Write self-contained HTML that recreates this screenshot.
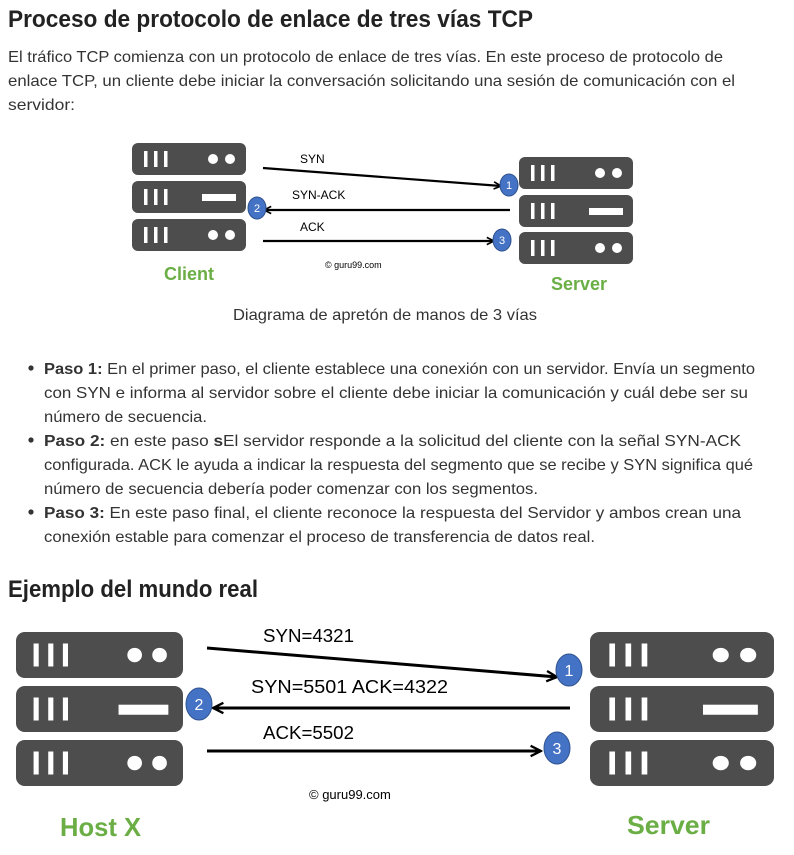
<!DOCTYPE html>
<html><head><meta charset="utf-8"><style>
html,body{margin:0;padding:0;background:#fff;width:794px;height:855px;overflow:hidden}
svg{display:block}
.t{font-family:"Liberation Sans",sans-serif;fill:#333;font-size:16px}
.b{font-weight:bold}
.d{font-family:"Liberation Sans",sans-serif;fill:#000}
.g{font-family:"Liberation Sans",sans-serif;fill:#6aae45;font-weight:bold}
</style></head><body>
<svg width="794" height="855" viewBox="0 0 794 855" xmlns="http://www.w3.org/2000/svg">
<defs>
<symbol id="u1" viewBox="0 0 114 32" preserveAspectRatio="none">
<rect x="0" y="0" width="114" height="32" rx="6" fill="#4d4d4d"/>
<rect x="12" y="8" width="3.5" height="16" fill="#fff"/><rect x="22" y="8" width="3.5" height="16" fill="#fff"/><rect x="32" y="8" width="3.5" height="16" fill="#fff"/>
<circle cx="81" cy="16" r="5" fill="#fff"/><circle cx="98" cy="16" r="5" fill="#fff"/>
</symbol>
<symbol id="u2" viewBox="0 0 114 32" preserveAspectRatio="none">
<rect x="0" y="0" width="114" height="32" rx="6" fill="#4d4d4d"/>
<rect x="12" y="8" width="3.5" height="16" fill="#fff"/><rect x="22" y="8" width="3.5" height="16" fill="#fff"/><rect x="32" y="8" width="3.5" height="16" fill="#fff"/>
<rect x="70" y="13" width="34" height="7" fill="#fff"/>
</symbol>
<marker id="ah" viewBox="0 0 10 10" refX="9" refY="5" markerWidth="9" markerHeight="9" orient="auto" markerUnits="userSpaceOnUse">
<path d="M1 1 L9 5 L1 9" fill="none" stroke="#000" stroke-width="1.8"/></marker>
<marker id="ah2" viewBox="0 0 10 10" refX="9" refY="5" markerWidth="13" markerHeight="13" orient="auto" markerUnits="userSpaceOnUse">
<path d="M1 1 L9 5 L1 9" fill="none" stroke="#000" stroke-width="1.8"/></marker>
</defs>

<text class="t" x="8" y="27" style="font-size:24px;fill:#222;font-weight:bold" textLength="525" lengthAdjust="spacingAndGlyphs">Proceso de protocolo de enlace de tres vías TCP</text>
<text class="t" x="8" y="62" textLength="715" lengthAdjust="spacingAndGlyphs">El tráfico TCP comienza con un protocolo de enlace de tres vías. En este proceso de protocolo de</text>
<text class="t" x="8" y="86" textLength="727" lengthAdjust="spacingAndGlyphs">enlace TCP, un cliente debe iniciar la conversación solicitando una sesión de comunicación con el</text>
<text class="t" x="8" y="110" textLength="67" lengthAdjust="spacingAndGlyphs">servidor:</text>

<!-- diagram 1 -->
<use href="#u1" x="132" y="143" width="114" height="32"/>
<use href="#u2" x="132" y="181" width="114" height="32"/>
<use href="#u1" x="132" y="219" width="114" height="32"/>
<use href="#u1" x="519" y="157" width="114" height="32"/>
<use href="#u2" x="519" y="195" width="114" height="32"/>
<use href="#u1" x="519" y="232" width="114" height="32"/>
<line x1="263" y1="168" x2="501" y2="186" stroke="#000" stroke-width="2.2" marker-end="url(#ah)"/>
<line x1="510" y1="210" x2="264" y2="210" stroke="#000" stroke-width="2.2" marker-end="url(#ah)"/>
<line x1="263" y1="241" x2="494" y2="241" stroke="#000" stroke-width="2.2" marker-end="url(#ah)"/>
<ellipse cx="509" cy="185" rx="9" ry="11" fill="#4472c4" stroke="#2f528f"/>
<ellipse cx="257" cy="208" rx="9" ry="11" fill="#4472c4" stroke="#2f528f"/>
<ellipse cx="502" cy="240" rx="9" ry="11" fill="#4472c4" stroke="#2f528f"/>
<text x="509" y="189" font-size="11" fill="#fff" text-anchor="middle" font-family="Liberation Sans">1</text>
<text x="257" y="212" font-size="11" fill="#fff" text-anchor="middle" font-family="Liberation Sans">2</text>
<text x="502" y="244" font-size="11" fill="#fff" text-anchor="middle" font-family="Liberation Sans">3</text>
<text class="d" x="300" y="163" font-size="12">SYN</text>
<text class="d" x="292" y="199" font-size="12">SYN-ACK</text>
<text class="d" x="300" y="231" font-size="12">ACK</text>
<text class="d" x="325" y="268" font-size="9">© guru99.com</text>
<text class="g" x="164" y="280" font-size="18">Client</text>
<text class="g" x="551" y="290" font-size="18">Server</text>
<text class="t" x="233" y="320" textLength="304" lengthAdjust="spacingAndGlyphs">Diagrama de apretón de manos de 3 vías</text>

<!-- bullets -->
<circle cx="31" cy="368" r="2.6" fill="#333"/>
<circle cx="31" cy="440" r="2.6" fill="#333"/>
<circle cx="31" cy="512" r="2.6" fill="#333"/>
<text class="t" x="44" y="374" textLength="711" lengthAdjust="spacingAndGlyphs"><tspan class="b">Paso 1:</tspan> En el primer paso, el cliente establece una conexión con un servidor. Envía un segmento</text>
<text class="t" x="44" y="398" textLength="704" lengthAdjust="spacingAndGlyphs">con SYN e informa al servidor sobre el cliente debe iniciar la comunicación y cuál debe ser su</text>
<text class="t" x="44" y="422" textLength="163" lengthAdjust="spacingAndGlyphs">número de secuencia.</text>
<text class="t" x="44" y="446" textLength="697" lengthAdjust="spacingAndGlyphs"><tspan class="b">Paso 2:</tspan> en este paso <tspan class="b">s</tspan>El servidor responde a la solicitud del cliente con la señal SYN-ACK</text>
<text class="t" x="44" y="470" textLength="709" lengthAdjust="spacingAndGlyphs">configurada. ACK le ayuda a indicar la respuesta del segmento que se recibe y SYN significa qué</text>
<text class="t" x="44" y="494" textLength="494" lengthAdjust="spacingAndGlyphs">número de secuencia debería poder comenzar con los segmentos.</text>
<text class="t" x="44" y="518" textLength="697" lengthAdjust="spacingAndGlyphs"><tspan class="b">Paso 3:</tspan> En este paso final, el cliente reconoce la respuesta del Servidor y ambos crean una</text>
<text class="t" x="44" y="542" textLength="551" lengthAdjust="spacingAndGlyphs">conexión estable para comenzar el proceso de transferencia de datos real.</text>

<text class="t" x="8" y="597" style="font-size:24px;fill:#222;font-weight:bold" textLength="250" lengthAdjust="spacingAndGlyphs">Ejemplo del mundo real</text>

<!-- diagram 2 -->
<use href="#u1" x="16" y="632" width="167" height="46"/>
<use href="#u2" x="16" y="686" width="167" height="46"/>
<use href="#u1" x="16" y="740" width="167" height="46"/>
<use href="#u1" x="590" y="632" width="184" height="46"/>
<use href="#u2" x="590" y="686" width="184" height="46"/>
<use href="#u1" x="590" y="740" width="184" height="46"/>
<line x1="207" y1="648" x2="557" y2="677" stroke="#000" stroke-width="3" marker-end="url(#ah2)"/>
<line x1="570" y1="708" x2="213" y2="708" stroke="#000" stroke-width="3" marker-end="url(#ah2)"/>
<line x1="207" y1="751" x2="541" y2="751" stroke="#000" stroke-width="3" marker-end="url(#ah2)"/>
<ellipse cx="569" cy="670" rx="13" ry="16" fill="#4472c4" stroke="#2f528f"/>
<ellipse cx="199" cy="704" rx="13" ry="16" fill="#4472c4" stroke="#2f528f"/>
<ellipse cx="557" cy="748" rx="13" ry="16" fill="#4472c4" stroke="#2f528f"/>
<text x="569" y="676" font-size="16" fill="#fff" text-anchor="middle" font-family="Liberation Sans">1</text>
<text x="199" y="710" font-size="16" fill="#fff" text-anchor="middle" font-family="Liberation Sans">2</text>
<text x="557" y="754" font-size="16" fill="#fff" text-anchor="middle" font-family="Liberation Sans">3</text>
<text class="d" x="263" y="642" font-size="18" textLength="91" lengthAdjust="spacingAndGlyphs">SYN=4321</text>
<text class="d" x="251" y="693" font-size="18" textLength="197" lengthAdjust="spacingAndGlyphs">SYN=5501   ACK=4322</text>
<text class="d" x="263" y="739" font-size="18" textLength="91" lengthAdjust="spacingAndGlyphs">ACK=5502</text>
<text class="d" x="309" y="799" font-size="13">© guru99.com</text>
<text class="g" x="60" y="836" font-size="26" textLength="81" lengthAdjust="spacingAndGlyphs">Host X</text>
<text class="g" x="627" y="834" font-size="26" textLength="83" lengthAdjust="spacingAndGlyphs">Server</text>
</svg>
</body></html>
